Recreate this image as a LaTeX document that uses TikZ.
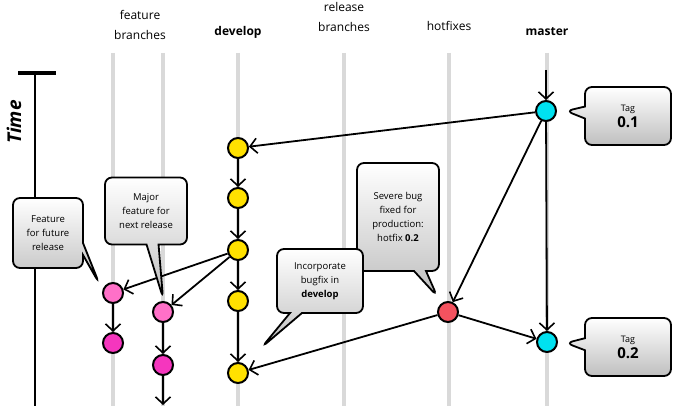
\documentclass[tikz,border=0pt]{standalone}
\usepackage{fontspec}
\setmainfont{Open Sans}
\usetikzlibrary{arrows.meta,shapes.callouts}
\definecolor{devyellow}{HTML}{FFE100}
\definecolor{tagcyan}{HTML}{00E1F0}
\definecolor{featpink}{HTML}{FF70C8}
\definecolor{featmag}{HTML}{F536BE}
\definecolor{fixred}{HTML}{F4525F}
\newcommand{\lbl}{\fontsize{12}{20}\selectfont}
\newcommand{\nt}{\fontsize{9.5}{14}\selectfont}

\begin{document}
\begin{tikzpicture}[x=1pt,y=-1pt,
    commit/.style={circle,draw=black,line width=2pt,minimum size=20pt,inner sep=0pt},
    flow/.style={line width=1.8pt,-{Straight Barb[length=7pt,width=15pt,line width=1.6pt]}},
    note/.style={rectangle callout,rounded corners=7pt,draw=black,line width=1.8pt,
      top color=white,bottom color=black!25,align=center,font=\nt,
      inner sep=2pt,callout pointer width=12pt}]
    \useasboundingbox (0,0) rectangle (677,406);
    % lanes
    \foreach \x in {113,163,238,344,449,547} {
     \draw[black!15,line width=4pt] (\x,53) -- (\x,406);
    }
    \node[font=\lbl,align=center] (featlbl) at (140,25) {feature\\branches};
    \node[font=\lbl\bfseries] (devlbl) at (238,32) {develop};
    \node[font=\lbl,align=center] (rellbl) at (344,17) {release\\branches};
    \node[font=\lbl] (hotlbl) at (449,26) {hotfixes};
    \node[font=\lbl\bfseries] (mstlbl) at (547,32) {master};
    % time axis
    \draw[line width=4pt] (18,73) -- (56,73);
    \draw[line width=2.5pt] (35,73) -- (35,406);
    \node[rotate=90,font=\fontsize{19}{20}\selectfont\bfseries\itshape] (time) at (14,122) {Time};
    % commits
    \node[commit,fill=tagcyan] (m1) at (546,111) {};
    \node[commit,fill=tagcyan] (m2) at (547,342) {};
    \node[commit,fill=devyellow] (d1) at (238,148) {};
    \node[commit,fill=devyellow] (d2) at (238,198) {};
    \node[commit,fill=devyellow] (d3) at (238,250) {};
    \node[commit,fill=devyellow] (d4) at (238,301) {};
    \node[commit,fill=devyellow] (d5) at (238,373) {};
    \node[commit,fill=featpink] (f1) at (113,293) {};
    \node[commit,fill=featmag] (f2) at (113,343) {};
    \node[commit,fill=featpink] (g1) at (163,312) {};
    \node[commit,fill=featmag] (g2) at (163,365) {};
    \node[commit,fill=fixred] (h1) at (448,312) {};
    \coordinate (mtop) at (546,70);
    \coordinate (gend) at (163,405);
    % connections
    \draw[flow] (mtop) -- (m1);
    \draw[flow] (m1) -- (d1);
    \draw[flow] (m1) -- (h1);
    \draw[flow] (m1) -- (m2);
    \draw[flow] (d1) -- (d2);
    \draw[flow] (d2) -- (d3);
    \draw[flow] (d3) -- (d4);
    \draw[flow] (d4) -- (d5);
    \draw[flow] (d3) -- (f1);
    \draw[flow] (d3) -- (g1);
    \draw[flow] (f1) -- (f2);
    \draw[flow] (g1) -- (g2);
    \draw[flow] (g2) -- (gend);
    \draw[flow] (h1) -- (d5);
    \draw[flow] (h1) -- (m2);
    % notes
    \node[note,minimum width=86pt,minimum height=58pt,callout absolute pointer={(566,111)}]
      (tag1) at (628,116) {\fontsize{9}{10}\selectfont Tag\\[2pt]{\fontsize{15}{16}\selectfont\bfseries 0.1}};
    \node[note,minimum width=86pt,minimum height=58pt,callout absolute pointer={(566,343)}]
      (tag2) at (628,347) {\fontsize{9}{10}\selectfont Tag\\[2pt]{\fontsize{15}{16}\selectfont\bfseries 0.2}};
    \node[note,minimum width=82pt,minimum height=108pt,callout absolute pointer={(437,296)}]
      (severe) at (398,217) {Severe bug\\fixed for\\production:\\hotfix \textbf{0.2}};
    \node[note,minimum width=86pt,minimum height=64pt,callout absolute pointer={(262,347)}]
      (incorp) at (320,281) {Incorporate\\bugfix in\\\textbf{develop}};
    \node[note,minimum width=82pt,minimum height=67pt,callout absolute pointer={(163,298)}]
      (major) at (146,211) {Major\\feature for\\next release};
    \node[note,minimum width=70pt,minimum height=70pt,callout absolute pointer={(99,283)}]
      (future) at (48,233) {Feature\\for future\\release};
   \end{tikzpicture}
\end{document}
